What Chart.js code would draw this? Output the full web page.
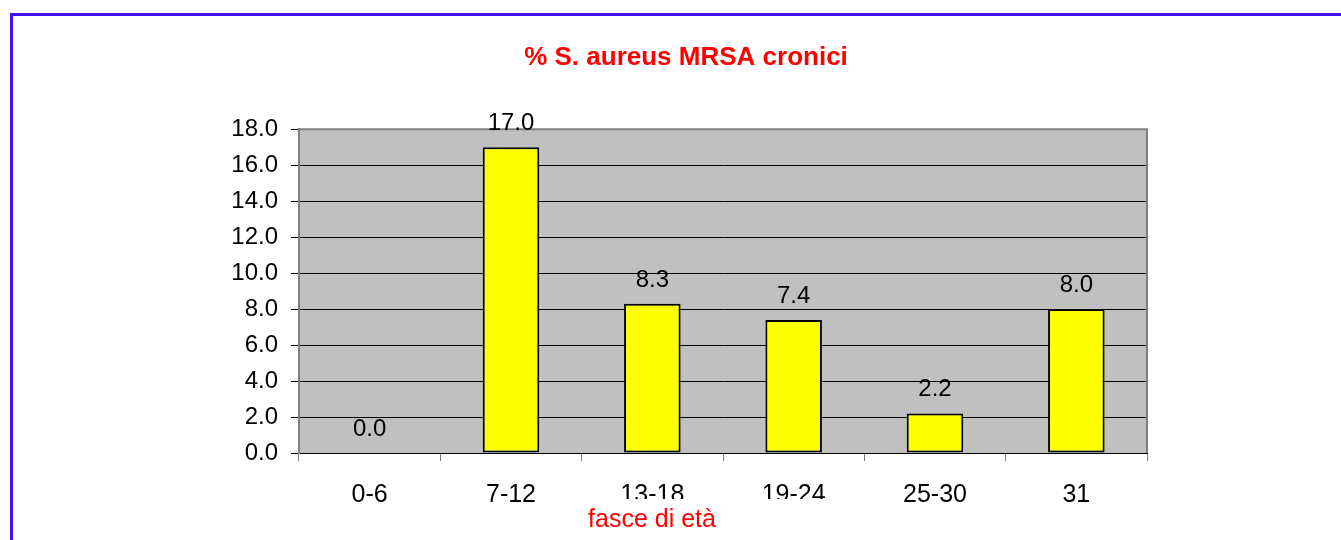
<!DOCTYPE html>
<html>
<head>
<meta charset="utf-8">
<script src="https://cdn.jsdelivr.net/npm/chart.js@4"></script>
<style>
  html, body { margin: 0; padding: 0; background: #ffffff; }
  #wrap { position: relative; width: 1341px; height: 540px; overflow: hidden; }
  #cornice {
    position: absolute; left: 10px; top: 13px; width: 1400px; height: 600px;
    border-top: 3px solid #4411ff; border-left: 3px solid #4411ff;
    pointer-events: none;
  }
</style>
</head>
<body>
<div id="wrap">
  <canvas id="grafico" width="1341" height="540"></canvas>
  <div id="cornice"></div>
</div>
<script>
// Dati del grafico
const fasceEta = ['0-6', '7-12', '13-18', '19-24', '25-30', '31'];
const percentualiMRSA = [0.0, 17.0, 8.3, 7.4, 2.2, 8.0];
const yTicks = [0, 2, 4, 6, 8, 10, 12, 14, 16, 18];
const titolo = '% S. aureus MRSA cronici';
const titoloAsseX = 'fasce di età';

const FONT = '"Liberation Sans", Arial, sans-serif';

// Sfondo grigio dell'area del grafico
const sfondoArea = {
  id: 'sfondoArea',
  beforeDraw(chart) {
    const { ctx, chartArea: a } = chart;
    ctx.save();
    ctx.fillStyle = '#c0c0c0';
    ctx.fillRect(a.left, a.top, a.right - a.left, a.bottom - a.top);
    ctx.restore();
  },
  afterDatasetsDraw(chart) {
    const { ctx, chartArea: a } = chart;
    ctx.save();
    ctx.strokeStyle = '#808080';
    ctx.lineWidth = 2;
    ctx.beginPath();
    ctx.moveTo(a.left, a.top);
    ctx.lineTo(a.right, a.top);
    ctx.lineTo(a.right, a.bottom);
    ctx.stroke();
    ctx.restore();
  }
};

// Etichette dei valori sopra le barre
const etichetteValori = {
  id: 'etichetteValori',
  afterDraw(chart) {
    const { ctx } = chart;
    const meta = chart.getDatasetMeta(0);
    ctx.save();
    ctx.font = '24px ' + FONT;
    ctx.fillStyle = '#000000';
    ctx.textAlign = 'center';
    ctx.textBaseline = 'alphabetic';
    meta.data.forEach((bar, i) => {
      ctx.fillText(percentualiMRSA[i].toFixed(1), bar.x, bar.y - 17);
    });
    ctx.restore();
  }
};

// Titolo asse X con riquadro bianco (copre in parte le etichette)
const titoloX = {
  id: 'titoloX',
  afterDraw(chart) {
    const { ctx } = chart;
    ctx.save();
    ctx.fillStyle = '#ffffff';
    ctx.fillRect(565, 499, 300, 41);
    ctx.font = '25px ' + FONT;
    ctx.fillStyle = '#ff0000';
    ctx.textAlign = 'center';
    ctx.textBaseline = 'alphabetic';
    ctx.fillText(titoloAsseX, 652, 527);
    ctx.restore();
  }
};

const ctx = document.getElementById('grafico').getContext('2d');
new Chart(ctx, {
  type: 'bar',
  data: {
    labels: fasceEta,
    datasets: [{
      data: percentualiMRSA,
      backgroundColor: '#ffff00',
      borderColor: '#000000',
      borderWidth: 2,
      borderSkipped: false,
      barPercentage: 0.4,
      categoryPercentage: 1.0
    }]
  },
  options: {
    responsive: false,
    animation: false,
    layout: { padding: { left: 225, right: 194, top: 0, bottom: 0 } },
    plugins: {
      legend: { display: false },
      tooltip: { enabled: false },
      title: {
        display: true,
        text: titolo,
        color: '#ff0000',
        font: { family: FONT, size: 26, weight: 'bold' },
        padding: { top: 42, bottom: 56 }
      }
    },
    scales: {
      x: {
        grid: {
          offset: true,
          drawOnChartArea: false,
          color: '#808080',
          tickLength: 8
        },
        border: { color: '#000000', width: 1 },
        ticks: {
          color: '#000000',
          font: { family: FONT, size: 25 },
          padding: 19,
          maxRotation: 0
        },
        afterFit(scale) { scale.height = 87; }
      },
      y: {
        min: 0,
        max: 18,
        afterBuildTicks(scale) { scale.ticks = yTicks.map(v => ({ value: v })); },
        grid: { color: '#000000', lineWidth: 1, tickLength: 8 },
        border: { color: '#808080', width: 2 },
        ticks: {
          color: '#000000',
          font: { family: FONT, size: 24 },
          padding: 13,
          callback: v => v.toFixed(1)
        },
        afterFit(scale) { scale.width = 74; }
      }
    }
  },
  plugins: [sfondoArea, etichetteValori, titoloX]
});
</script>
</body>
</html>
